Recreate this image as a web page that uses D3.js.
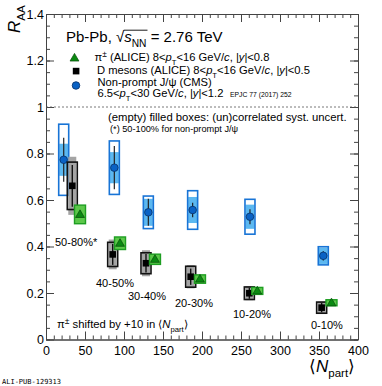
<!DOCTYPE html>
<html>
<head>
<meta charset="utf-8">
<script src="https://cdn.jsdelivr.net/npm/d3@7"></script>
<style>
  body { margin: 0; background: #fff; }
  text { font-family: "Liberation Sans", Arial, Helvetica, sans-serif; fill: #000; }
</style>
</head>
<body>
<div id="chart"></div>
<script>
// centrality classes (label per point group)
var centralities = ["50-80%*", "40-50%", "30-40%", "20-30%", "10-20%", "0-10%"];

// D mesons (ALICE)
var dNpart   = [33.7, 85.5, 128.2, 185.5, 260.7, 353.4];
var dRaa     = [0.661, 0.366, 0.328, 0.270, 0.199, 0.137];
var dStat    = [0.090, 0.045, 0.040, 0.035, 0.024, 0.020];
var dCorr    = [0.102, 0.052, 0.045, 0.045, 0.027, 0.024];
var dUncorr  = [0.125, 0.064, 0.056, 0.050, 0.030, 0.026];

// charged pions (ALICE), already shifted by +10 in Npart
var piNpart  = [43.6, 94.9, 139.7, 197.4, 270.9, 366.0];
var piRaa    = [0.538, 0.414, 0.345, 0.260, 0.209, 0.158];
var piSyst   = [0.040, 0.027, 0.022, 0.018, 0.015, 0.013];

// non-prompt J/psi (CMS)
var jpNpart  = [22.7, 87.6, 131.2, 188.0, 261.5, 355.5];
var jpRaa    = [0.773, 0.739, 0.547, 0.557, 0.528, 0.360];
var jpStat   = [0.095, 0.093, 0.058, 0.031, 0.032, 0.020];
var jpCorr   = [0.153, 0.115, 0.070, 0.083, 0.075, 0.039];
var jpUncorr = [0.069, 0.067, 0.058, 0.056, 0.052, 0.035];

var xTicks = [0, 50, 100, 150, 200, 250, 300, 350, 400];
var yTicks = [0, 0.2, 0.4, 0.6, 0.8, 1, 1.2, 1.4];

var width = 382, height = 386;
var padL = 46, padR = 358, padT = 14, padB = 339.5;

var svg = d3.select("#chart").append("svg")
  .attr("width", width)
  .attr("height", height);

var x = d3.scaleLinear().domain([0, 400]).range([padL, padR]);
var y = d3.scaleLinear().domain([0, 1.4]).range([padB, padT]);

/////////////////////////////
// axes (ticks pointing inwards, mirrored)
/////////////////////////////
var axisCol = "#444";

function styleAxis(g) {
  g.selectAll("path.domain").attr("stroke", axisCol).attr("stroke-width", 1);
  g.selectAll(".tick line").attr("stroke", axisCol).attr("stroke-width", 1);
  g.selectAll(".tick text").style("font-size", "12.5px").attr("fill", "#000")
    .style("font-family", "'Liberation Sans', Arial, sans-serif");
}

var xMinor = d3.range(0, 401, 10);
var yMinor = d3.range(0, 1.401, 0.05);

// bottom
svg.append("g").attr("transform", "translate(0," + padB + ")")
  .call(d3.axisBottom(x).tickValues(xMinor).tickSize(-4).tickFormat("").tickSizeOuter(0))
  .call(styleAxis);
svg.append("g").attr("transform", "translate(0," + padB + ")")
  .call(d3.axisBottom(x).tickValues(xTicks).tickSize(-8).tickPadding(7).tickSizeOuter(0))
  .call(styleAxis);
// top
svg.append("g").attr("transform", "translate(0," + padT + ")")
  .call(d3.axisTop(x).tickValues(xMinor).tickSize(-4).tickFormat("").tickSizeOuter(0))
  .call(styleAxis);
svg.append("g").attr("transform", "translate(0," + padT + ")")
  .call(d3.axisTop(x).tickValues(xTicks).tickSize(-8).tickFormat("").tickSizeOuter(0))
  .call(styleAxis);
// left
svg.append("g").attr("transform", "translate(" + padL + ",0)")
  .call(d3.axisLeft(y).tickValues(yMinor).tickSize(-4).tickFormat("").tickSizeOuter(0))
  .call(styleAxis);
svg.append("g").attr("transform", "translate(" + padL + ",0)")
  .call(d3.axisLeft(y).tickValues(yTicks).tickSize(-8).tickPadding(2).tickSizeOuter(0)
    .tickFormat(function(d){ return String(+d.toFixed(1)); }))
  .call(styleAxis);
// right
svg.append("g").attr("transform", "translate(" + padR + ",0)")
  .call(d3.axisRight(y).tickValues(yMinor).tickSize(-4).tickFormat("").tickSizeOuter(0))
  .call(styleAxis);
svg.append("g").attr("transform", "translate(" + padR + ",0)")
  .call(d3.axisRight(y).tickValues(yTicks).tickSize(-8).tickFormat("").tickSizeOuter(0))
  .call(styleAxis);

// unity line
svg.append("line")
  .attr("x1", x(0)).attr("x2", x(400))
  .attr("y1", y(1)).attr("y2", y(1))
  .attr("stroke", "#555").attr("stroke-width", 0.8)
  .attr("stroke-dasharray", "2,2");

/////////////////////////////
// rich text helper: parts = [text, flags] ; i=italic s=sub u=sup
/////////////////////////////
function richText(g, px, py, size, parts) {
  var t = g.append("text").attr("x", px).attr("y", py).style("font-size", size + "px");
  var shift = 0;
  parts.forEach(function(p) {
    var f = p[1] || "";
    var s = t.append("tspan").text(p[0]);
    var want = 0;
    if (f.indexOf("s") >= 0) { want = size * 0.32; s.style("font-size", (size * 0.68) + "px"); }
    if (f.indexOf("u") >= 0) { want = -size * 0.35; s.style("font-size", (size * 0.75) + "px"); }
    if (f.indexOf("i") >= 0) s.style("font-style", "italic");
    if (want - shift !== 0) s.attr("dy", want - shift);
    shift = want;
  });
  return t;
}

/////////////////////////////
// data: J/psi
/////////////////////////////
var bw = 10;
var jp = svg.append("g");
jpNpart.forEach(function(n, i) {
  var cx = x(n);
  jp.append("rect")
    .attr("x", cx - bw / 2 + 0.5).attr("width", bw - 1)
    .attr("y", y(jpRaa[i] + jpUncorr[i]))
    .attr("height", y(jpRaa[i] - jpUncorr[i]) - y(jpRaa[i] + jpUncorr[i]))
    .attr("fill", "#5cb8f0");
  jp.append("rect")
    .attr("x", cx - bw / 2).attr("width", bw)
    .attr("y", y(jpRaa[i] + jpCorr[i]))
    .attr("height", y(jpRaa[i] - jpCorr[i]) - y(jpRaa[i] + jpCorr[i]))
    .attr("fill", "none").attr("stroke", "#1874d6").attr("stroke-width", 1.6);
  jp.append("line")
    .attr("x1", cx).attr("x2", cx)
    .attr("y1", y(jpRaa[i] + jpStat[i])).attr("y2", y(jpRaa[i] - jpStat[i]))
    .attr("stroke", "#222").attr("stroke-width", 1.2);
  jp.append("circle")
    .attr("cx", cx).attr("cy", y(jpRaa[i])).attr("r", 3.8)
    .attr("fill", "#0a62c4").attr("stroke", "#06306a").attr("stroke-width", 0.8);
});

/////////////////////////////
// data: D mesons
/////////////////////////////
var dg = svg.append("g");
dNpart.forEach(function(n, i) {
  var cx = x(n);
  dg.append("rect")
    .attr("x", cx - 4).attr("width", 8)
    .attr("y", y(dRaa[i] + dUncorr[i]))
    .attr("height", y(dRaa[i] - dUncorr[i]) - y(dRaa[i] + dUncorr[i]))
    .attr("fill", "#a4a4a4");
  dg.append("rect")
    .attr("x", cx - bw / 2).attr("width", bw)
    .attr("y", y(dRaa[i] + dCorr[i]))
    .attr("height", y(dRaa[i] - dCorr[i]) - y(dRaa[i] + dCorr[i]))
    .attr("fill", "none").attr("stroke", "#111").attr("stroke-width", 1.6);
  dg.append("line")
    .attr("x1", cx).attr("x2", cx)
    .attr("y1", y(dRaa[i] + dStat[i])).attr("y2", y(dRaa[i] - dStat[i]))
    .attr("stroke", "#111").attr("stroke-width", 1.4);
  dg.append("rect")
    .attr("x", cx - 3.3).attr("y", y(dRaa[i]) - 3.3)
    .attr("width", 6.6).attr("height", 6.6)
    .attr("fill", "#000");
});

/////////////////////////////
// data: pions
/////////////////////////////
var pg = svg.append("g");
var tri = d3.symbol().type(d3.symbolTriangle).size(34);
piNpart.forEach(function(n, i) {
  var cx = x(n);
  pg.append("rect")
    .attr("x", cx - 5.5).attr("width", 11)
    .attr("y", y(piRaa[i] + piSyst[i]))
    .attr("height", y(piRaa[i] - piSyst[i]) - y(piRaa[i] + piSyst[i]))
    .attr("fill", "#5cc84a").attr("stroke", "#1e9e22").attr("stroke-width", 1.4);
  pg.append("path")
    .attr("d", tri)
    .attr("transform", "translate(" + cx + "," + (y(piRaa[i]) + 0.5) + ")")
    .attr("fill", "#0b8a12").attr("stroke", "#064a08").attr("stroke-width", 0.7);
});

/////////////////////////////
// centrality labels
/////////////////////////////
var labX = [55, 96, 128, 175, 233, 311];
var labY = [246, 287, 300, 307, 318, 329];
centralities.forEach(function(c, i) {
  svg.append("text").attr("x", labX[i]).attr("y", labY[i])
    .style("font-size", "11px").text(c);
});

/////////////////////////////
// title, legend, notes
/////////////////////////////
var title = richText(svg, 66, 42, 15, [
  ["Pb-Pb, "], ["\u221A"], ["s", "i"], ["NN", "s"], [" = 2.76 TeV"]
]);
// overline of the root sign
(function() {
  var node = title.node();
  var full = node.textContent;
  var i0 = full.indexOf("\u221A");
  var x0 = node.getEndPositionOfChar(i0).x;
  var x1 = node.getEndPositionOfChar(full.indexOf("NN") + 1).x;
  svg.append("line").attr("x1", x0 - 0.5).attr("x2", x1 + 1)
    .attr("y1", 30.2).attr("y2", 30.2)
    .attr("stroke", "#000").attr("stroke-width", 0.9);
})();

svg.append("path").attr("d", tri)
  .attr("transform", "translate(74.5,58.5)")
  .attr("fill", "#0b8a12").attr("stroke", "#064a08").attr("stroke-width", 0.7);
svg.append("rect").attr("x", 72.8).attr("y", 67.8).attr("width", 6.6).attr("height", 6.6)
  .attr("fill", "#000");
svg.append("circle").attr("cx", 76).attr("cy", 85.5).attr("r", 3.8)
  .attr("fill", "#0a62c4").attr("stroke", "#06306a").attr("stroke-width", 0.8);

var lf = 11.2;
richText(svg, 94.5, 61, lf, [
  ["\u03C0"], ["\u00B1", "u"], [" (ALICE) 8<"], ["p", "i"], ["T", "s"], ["<16 GeV/"], ["c", "i"],
  [", |"], ["y", "i"], ["|<0.8"]
]);
richText(svg, 97, 74, lf, [
  ["D mesons (ALICE) 8<"], ["p", "i"], ["T", "s"], ["<16 GeV/"], ["c", "i"],
  [", |"], ["y", "i"], ["|<0.5"]
]);
richText(svg, 97.5, 85.5, lf, [["Non-prompt J/\u03C8 (CMS)"]]);
richText(svg, 97.5, 97, lf, [
  ["6.5<"], ["p", "i"], ["T", "s"], ["<30 GeV/"], ["c", "i"], [", |"], ["y", "i"], ["|<1.2"]
]);
svg.append("text").attr("x", 230).attr("y", 97).style("font-size", "6.8px")
  .text("EPJC 77 (2017) 252");

svg.append("text").attr("x", 108).attr("y", 121).style("font-size", "11.3px")
  .text("(empty) filled boxes: (un)correlated syst. uncert.");
svg.append("text").attr("x", 110).attr("y", 132).style("font-size", "9.2px")
  .text("(*) 50-100% for non-prompt J/\u03C8");

richText(svg, 57, 328, 11.3, [
  ["\u03C0"], ["\u00B1", "u"], [" shifted by +10 in \u27E8"], ["N", "i"], ["part", "s"], ["\u27E9"]
]);

// axis titles
richText(svg, 309, 372, 17, [["\u27E8"], ["N", "i"], ["part", "s"], ["\u27E9"]]);

var yt = svg.append("g").attr("transform", "translate(20,33) rotate(-90)");
richText(yt, 0, 0, 17, [["R", "i"], ["AA", "s"]]);

svg.append("text").attr("x", 2).attr("y", 384)
  .style("font-family", "'DejaVu Sans Mono', monospace")
  .style("font-size", "7px").attr("fill", "#aaa")
  .text("ALI-PUB-129313");
</script>
</body>
</html>
